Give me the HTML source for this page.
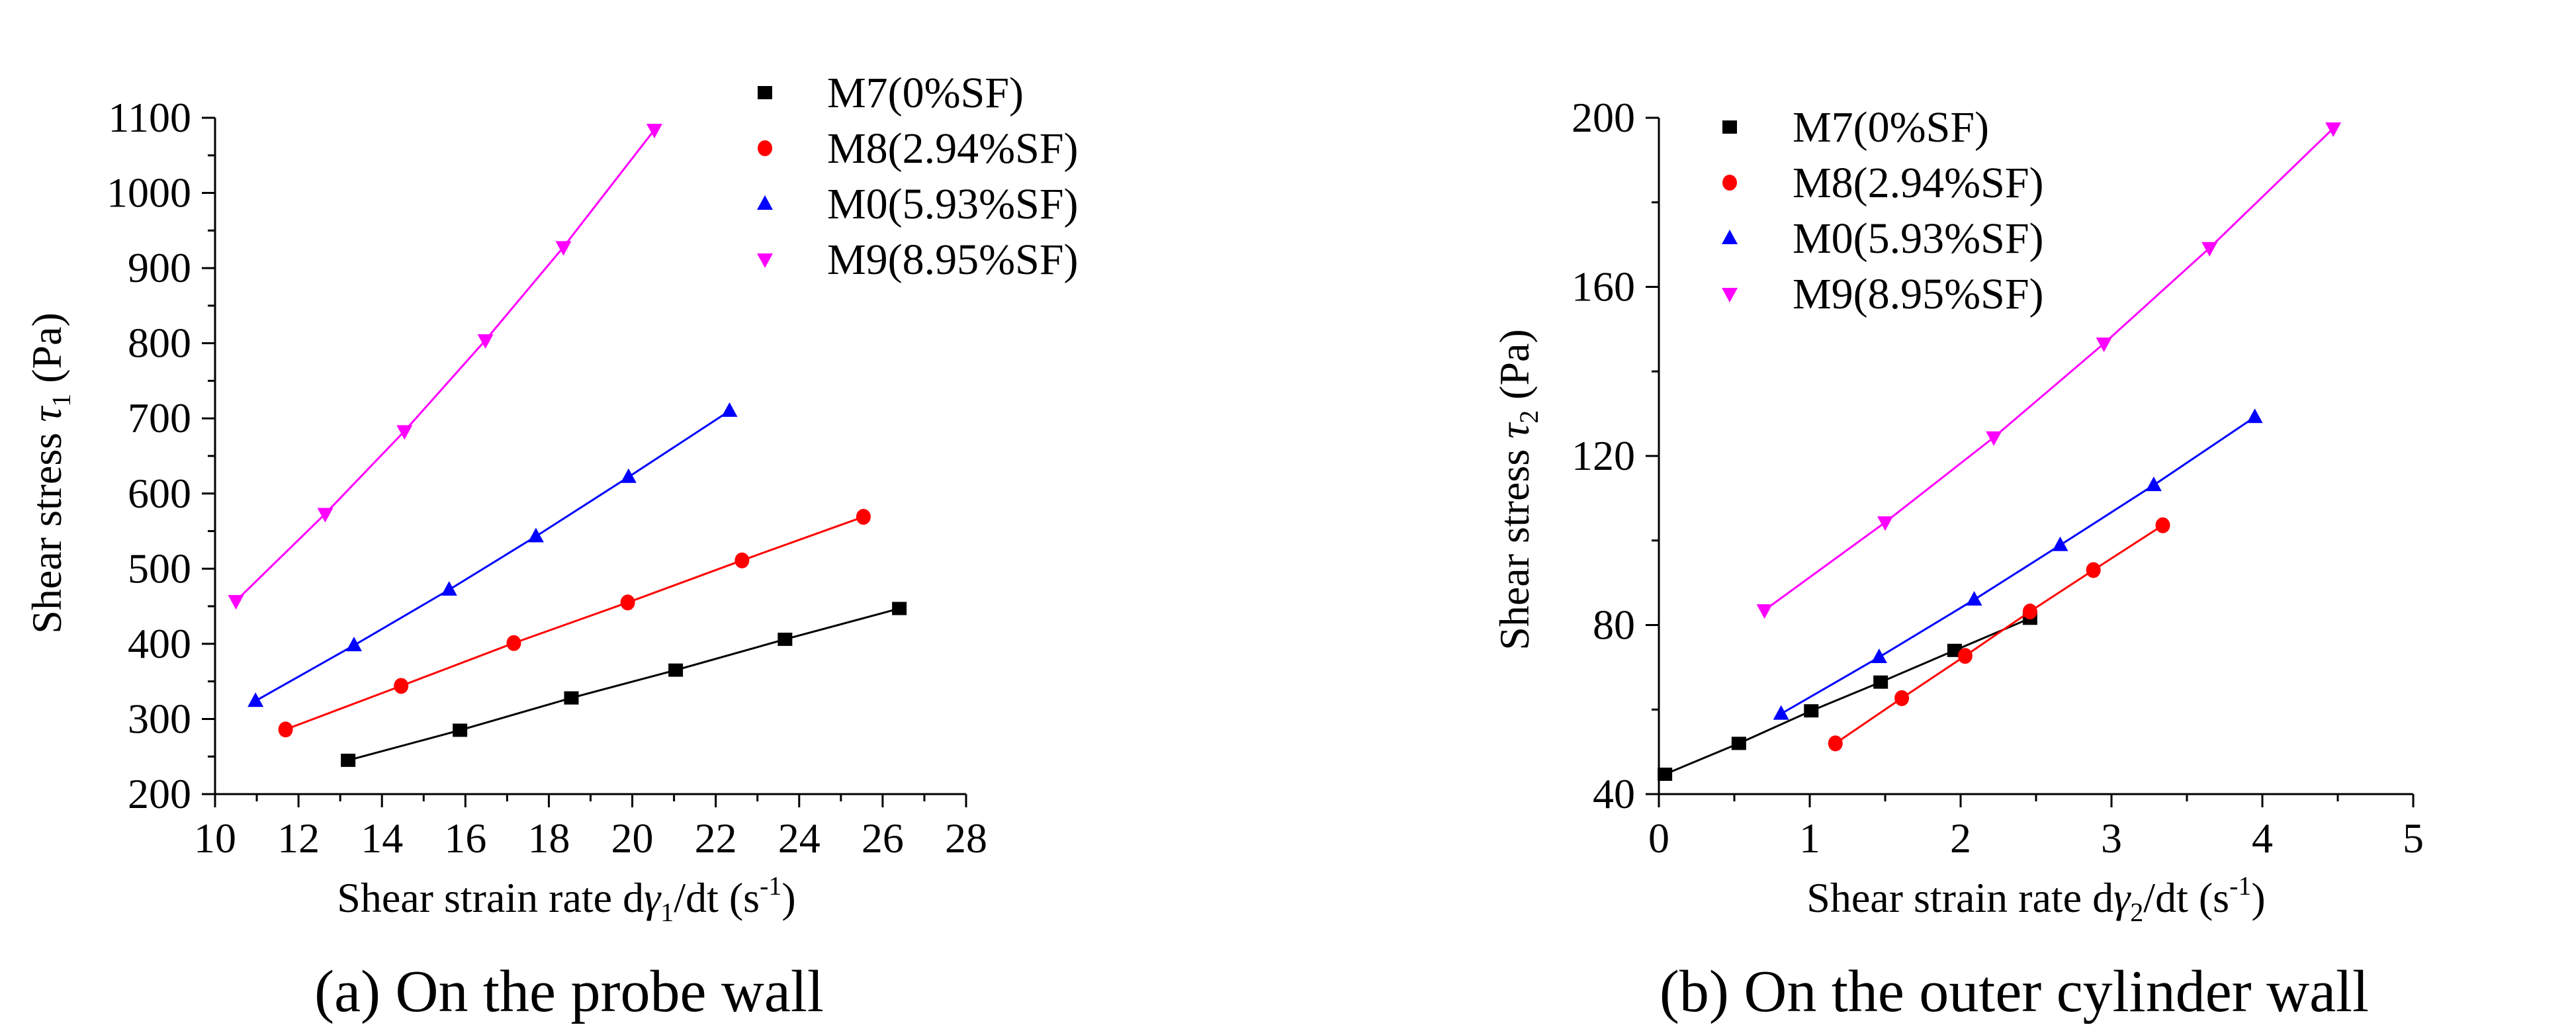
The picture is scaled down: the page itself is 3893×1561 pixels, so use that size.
<!DOCTYPE html>
<html><head><meta charset="utf-8"><style>
html,body{margin:0;padding:0;background:#fff}
svg, svg text{font-family:"Liberation Serif","DejaVu Serif",serif}
</style></head><body>
<svg id="fig" width="3893" height="1556" viewBox="0 0 3893 1556" font-family="Liberation Serif, serif" xmlns="http://www.w3.org/2000/svg"></svg>
<script>
// ---- Data (a) probe wall ----
const seriesNames = ["M7(0%SF)","M8(2.94%SF)","M0(5.93%SF)","M9(8.95%SF)"];
const seriesColors = ["#000000","#ff0000","#0000ff","#ff00ff"];
const seriesShapes = ["square","circle","up","down"];
const aM7x = [13.19,15.87,18.54,21.04,23.66,26.4];
const aM7y = [245,285,328,365,406,447];
const aM8x = [11.69,14.46,17.16,19.89,22.63,25.54];
const aM8y = [286,344,401,455,511,569];
const aM0x = [10.97,13.33,15.61,17.69,19.91,22.33];
const aM0y = [324,398,472,543,622,710];
const aM9x = [10.5,12.64,14.54,16.48,18.35,20.53];
const aM9y = [457,573,683,804,928,1084];
const aXTicks = [10,12,14,16,18,20,22,24,26,28];
const aYTicks = [200,300,400,500,600,700,800,900,1000,1100];
// ---- Data (b) outer cylinder wall ----
const bM7x = [0.04,0.53,1.01,1.47,1.96,2.46];
const bM7y = [44.7,52,59.7,66.5,74,81.6];
const bM8x = [1.17,1.61,2.03,2.46,2.88,3.34];
const bM8y = [52,62.7,72.7,83.2,93,103.6];
const bM0x = [0.81,1.46,2.09,2.66,3.28,3.95];
const bM0y = [59,72.4,86,98.9,113.1,129.2];
const bM9x = [0.70,1.50,2.22,2.95,3.65,4.47];
const bM9y = [83.5,104.3,124.4,146.6,169.2,197.5];
const bXTicks = [0,1,2,3,4,5];
const bYTicks = [40,80,120,160,200];

const NS="http://www.w3.org/2000/svg";
const svg=document.getElementById('fig');
const FONT='"Liberation Serif", "DejaVu Serif", serif';
function mk(tag,attrs,parent,text){const e=document.createElementNS(NS,tag);for(const k in attrs)e.setAttribute(k,attrs[k]);if(tag==='text')e.style.fontFamily=FONT;if(text!==undefined)e.textContent=text;(parent||svg).appendChild(e);return e;}

function marker(g,shape,x,y,c){
  let e;
  if(shape==="square"){e=mk('rect',{x:x-11,y:y-10,width:22,height:20,fill:c},g);}
  else if(shape==="circle"){e=mk('ellipse',{cx:x,cy:y,rx:11,ry:12,fill:c},g);}
  else if(shape==="up"){e=mk('polygon',{points:`${x},${y-13} ${x+12},${y+9} ${x-12},${y+9}`,fill:c},g);}
  else {e=mk('polygon',{points:`${x-12},${y-9} ${x+12},${y-9} ${x},${y+13}`,fill:c},g);}
  return e;
}

function panel(cfg){
  const g=mk('g',{});
  
  
  const sx=v=>cfg.x0+(v-cfg.xmin)/(cfg.xmax-cfg.xmin)*(cfg.x1-cfg.x0);
  const sy=v=>cfg.y0-(v-cfg.ymin)/(cfg.ymax-cfg.ymin)*(cfg.y0-cfg.y1);
  const ax=mk('line',{x1:cfg.x0,y1:cfg.y0,x2:cfg.x1,y2:cfg.y0,stroke:'#000','stroke-width':3},g);
  
  const ay=mk('line',{x1:cfg.x0,y1:cfg.y0,x2:cfg.x0,y2:cfg.y1,stroke:'#000','stroke-width':3},g);
  
  const xt=cfg.xTicks, yt=cfg.yTicks;
  xt.forEach((v,i)=>{
    const x=sx(v);
    mk('line',{x1:x,y1:cfg.y0,x2:x,y2:cfg.y0+20,stroke:'#000','stroke-width':3},g);
    if(i<xt.length-1){const xm=sx((v+xt[i+1])/2);mk('line',{x1:xm,y1:cfg.y0,x2:xm,y2:cfg.y0+11,stroke:'#000','stroke-width':3},g);}
    const t=mk('text',{x:x,y:cfg.y0+88,'font-size':64,'text-anchor':'middle'},g,String(v));
    
  });
  yt.forEach((v,i)=>{
    const y=sy(v);
    mk('line',{x1:cfg.x0,y1:y,x2:cfg.x0-20,y2:y,stroke:'#000','stroke-width':3},g);
    if(i<yt.length-1){const ym=sy((v+yt[i+1])/2);mk('line',{x1:cfg.x0,y1:ym,x2:cfg.x0-11,y2:ym,stroke:'#000','stroke-width':3},g);}
    const t=mk('text',{x:cfg.x0-36,y:y+21,'font-size':64,'text-anchor':'end'},g,String(v));
    
  });
  cfg.series.forEach((s,i)=>{
    const sg=mk('g',{},g);
    
    
    const pts=s.x.map((v,j)=>sx(v)+','+sy(s.y[j])).join(' ');
    mk('polyline',{points:pts,fill:'none',stroke:seriesColors[i],'stroke-width':3},sg);
    s.x.forEach((v,j)=>{
      const m=marker(sg,seriesShapes[i],sx(v),sy(s.y[j]),seriesColors[i]);
      
      
    });
  });
  const lg=mk('g',{},g);
  
  
  seriesNames.forEach((n,i)=>{
    const y=cfg.legY+i*84;
    const m=marker(lg,seriesShapes[i],cfg.legMx,y,seriesColors[i]);
    
    
    const t=mk('text',{x:cfg.legTx,y:y+22,'font-size':66},lg,n);
    
    
  });
  const yg=mk('text',{transform:`translate(${cfg.yTitleX},${cfg.yTitleY}) rotate(-90)`,'font-size':64,'text-anchor':'middle'},g);
  
  yg.innerHTML=`Shear stress  <tspan font-style="italic">τ</tspan><tspan font-size="40" dy="14">${cfg.sub}</tspan><tspan dy="-14"> (Pa)</tspan>`;
  const xg=mk('text',{x:cfg.xTitleX,y:1378,'font-size':64,'text-anchor':'middle'},g);
  
  xg.innerHTML=`Shear strain rate d<tspan font-style="italic">γ</tspan><tspan font-size="40" dy="14">${cfg.sub}</tspan><tspan dy="-14">/dt (s</tspan><tspan font-size="40" dy="-26">-1</tspan><tspan dy="26">)</tspan>`;
  const cp=mk('text',{x:cfg.capX,y:1528,'font-size':90,'text-anchor':'middle'},g,cfg.caption);
  
}

panel({name:'panel-a-probe-wall',x0:325,x1:1460,y0:1200,y1:178,xmin:10,xmax:28,ymin:200,ymax:1100,
  xTicks:aXTicks,yTicks:aYTicks,
  series:[{x:aM7x,y:aM7y},{x:aM8x,y:aM8y},{x:aM0x,y:aM0y},{x:aM9x,y:aM9y}],
  legMx:1156,legTx:1250,legY:140,yTitleX:92,yTitleY:715,sub:'1',xTitleX:856,capX:860,caption:'(a) On the probe wall'});
panel({name:'panel-b-outer-cylinder-wall',x0:2507,x1:3647,y0:1200,y1:178,xmin:0,xmax:5,ymin:40,ymax:200,
  xTicks:bXTicks,yTicks:bYTicks,
  series:[{x:bM7x,y:bM7y},{x:bM8x,y:bM8y},{x:bM0x,y:bM0y},{x:bM9x,y:bM9y}],
  legMx:2614,legTx:2709,legY:192,yTitleX:2310,yTitleY:740,sub:'2',xTitleX:3077,capX:3044,caption:'(b) On the outer cylinder wall'});
</script>
</body></html>
